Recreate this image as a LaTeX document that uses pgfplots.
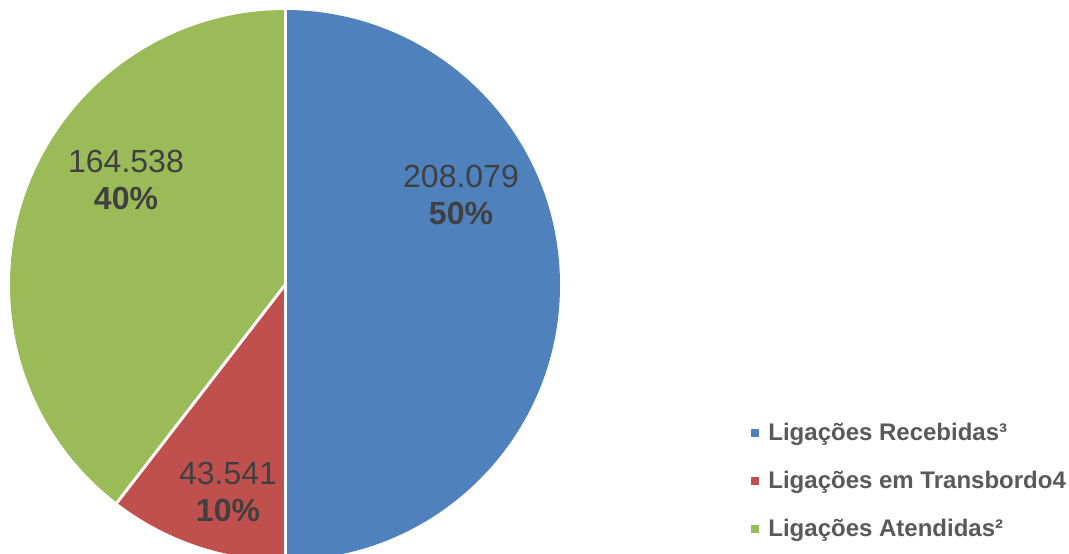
\documentclass[border=0pt]{standalone}
\usepackage{pgfplots}
\pgfplotsset{compat=1.18}
\usepackage{pgfplotstable}
\usepackage{fontspec}
\setmainfont{Liberation Sans}
\definecolor{cblue}{HTML}{4F81BD}
\definecolor{cred}{HTML}{C0504D}
\definecolor{cgreen}{HTML}{9BBB59}
\definecolor{labtxt}{HTML}{404040}
\definecolor{legtxt}{HTML}{595959}
\pgfplotstableread{
name value
Recebidas 208079
Transbordo 43541
Atendidas 164538
}\piedata
\begin{document}
\begin{tikzpicture}
\pgfplotstablegetelem{0}{value}\of\piedata \let\va\pgfplotsretval
\pgfplotstablegetelem{1}{value}\of\piedata \let\vb\pgfplotsretval
\pgfplotstablegetelem{2}{value}\of\piedata \let\vc\pgfplotsretval
\edef\aA{\fpeval{round(90-360*\va/(\va+\vb+\vc),4)}}
\edef\aB{\fpeval{round(\aA-360*\vb/(\va+\vb+\vc),4)}}
\def\R{137.5pt}
\begin{axis}[
  width=534.5pt, height=276.5pt, scale only axis,
  xmin=0, xmax=1069, ymin=0, ymax=553,
  hide axis, clip=true,
]
\fill[cblue] (axis cs:285,268) -- ++(90:\R) arc[start angle=90, end angle=\aA, radius=\R] -- cycle;
\fill[cred] (axis cs:285,268) -- ++(\aA:\R) arc[start angle=\aA, end angle=\aB, radius=\R] -- cycle;
\fill[cgreen] (axis cs:285,268) -- ++(\aB:\R) arc[start angle=\aB, end angle=-270, radius=\R] -- cycle;
\draw[white, line width=1.5pt] (axis cs:285,268) -- ++(90:\R);
\draw[white, line width=1.5pt] (axis cs:285,268) -- ++(\aA:\R);
\draw[white, line width=1.5pt] (axis cs:285,268) -- ++(\aB:\R);
\node[align=center, text=labtxt, font=\fontsize{16}{18.5}\selectfont] at (axis cs:461,358) {208.079\\\textbf{50\%}};
\node[align=center, text=labtxt, font=\fontsize{16}{18.5}\selectfont] at (axis cs:126,373) {164.538\\\textbf{40\%}};
\node[align=center, text=labtxt, font=\fontsize{16}{18.5}\selectfont] at (axis cs:228,61) {43.541\\\textbf{10\%}};
\fill[cblue] (axis cs:751,116) rectangle (axis cs:759,124);
\fill[cred] (axis cs:751,68) rectangle (axis cs:759,76);
\fill[cgreen] (axis cs:751,20) rectangle (axis cs:759,28);
\node[anchor=west, inner sep=0pt, text=legtxt, font=\fontsize{12}{14}\selectfont\bfseries] at (axis cs:768,119) {Ligações Recebidas³};
\node[anchor=west, inner sep=0pt, text=legtxt, font=\fontsize{12}{14}\selectfont\bfseries] at (axis cs:768,71) {Ligações em Transbordo4};
\node[anchor=west, inner sep=0pt, text=legtxt, font=\fontsize{12}{14}\selectfont\bfseries] at (axis cs:768,23) {Ligações Atendidas²};
\end{axis}
\pgfresetboundingbox
\path[use as bounding box] (0,0) rectangle (534.5pt,276.5pt);
\end{tikzpicture}
\end{document}
